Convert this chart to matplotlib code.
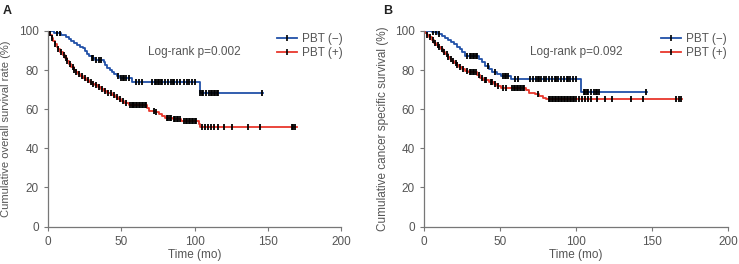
import matplotlib
matplotlib.use("Agg")
import matplotlib.pyplot as plt
from matplotlib.lines import Line2D
import numpy as np

plt.rcParams['font.family'] = ['Liberation Sans', 'DejaVu Sans']

# panel A - overall survival
a_neg_t = [4, 9, 12, 14, 16, 18, 20, 22, 24, 25, 26.5, 28, 30, 32, 38, 39, 40.5, 42, 43.5, 45, 47, 49, 57.5, 103.5]
a_neg_s = [99, 98, 97, 96, 95, 94, 93, 92, 91, 89.5, 88, 87, 86, 85, 84, 82.5, 81, 80, 79, 78, 77, 76, 74, 68]
a_neg_end = 146.6
a_neg_cens = [6, 8, 30, 31, 33, 35, 36, 48, 50, 51, 52, 53, 55, 60, 62, 64, 71, 73, 74, 75, 76, 77, 78, 80,
              82, 84, 85, 86, 88, 90, 93, 95, 96, 98, 100, 104, 105, 106, 108, 110, 111, 112, 113, 114, 115, 116, 146]

a_pos_t = [0.5, 1.5, 2.5, 3.5, 4.5, 6, 7, 8.5, 10, 11.5, 13, 14.5, 16, 17.5, 19, 20.5, 22, 24, 26, 28, 30, 32,
           34, 36, 38, 40, 42, 44, 46, 48, 50, 52, 55, 67.5, 69, 73, 76, 78, 80, 85, 91, 103, 104]
a_pos_s = [99, 98, 96.5, 95, 93.5, 92, 90.5, 89, 87.5, 86, 84.5, 83, 81.5, 80, 79, 78, 77, 76, 75, 74, 73, 72.5,
           71.5, 70.5, 69.5, 68.5, 68, 67, 66, 65, 64, 63, 62, 60.5, 59, 58.5, 57.5, 56.5, 55.5, 55, 54, 52.5, 51]
a_pos_end = 169.7
a_pos_cens = [1, 3, 5, 7, 9, 11, 12, 13, 15, 17, 18, 19, 21, 23, 25, 27, 29, 31, 33, 35, 37, 39, 41, 43, 45,
              47, 49, 51, 53, 56, 57, 58, 59, 60, 61, 62, 63, 64, 65, 66, 67, 72, 74, 81, 82, 83, 84, 86, 87, 88,
              89, 90, 93, 94, 95, 96, 97, 98, 99, 100, 101, 104.8, 107, 109, 111.4, 113.6, 115.8, 120, 125.7,
              136.7, 144.4, 166.4, 167.5, 168.6]

# panel B - cancer specific survival
b_neg_t = [5, 9, 12, 14, 16, 18, 20, 22, 23.5, 25, 27, 36, 38, 40, 43, 45, 48, 51, 57.5, 103.5]
b_neg_s = [99.5, 98.5, 97.5, 96.5, 95.5, 94.5, 93.5, 92, 90.5, 89, 87, 85.5, 84, 82, 80.5, 79, 78, 77, 75.5, 69]
b_neg_end = 146.6
b_neg_cens = [6, 8, 10, 28, 30, 31, 32, 33, 34, 35, 42, 47, 52, 53, 54, 55, 60, 62, 70, 72, 74, 75, 76, 77, 79,
              80, 82, 84, 86, 87, 88, 90, 92, 94, 95, 96, 98, 100, 105, 106, 107, 108, 110, 112, 113, 114, 115, 146]

b_pos_t = [1, 2, 3.5, 5, 6.5, 8, 9.5, 11, 12.5, 14, 15.5, 17, 18.5, 20, 21.5, 23, 25, 27, 29, 35, 37, 39, 43,
           46, 48, 51, 67, 69, 73, 76, 78, 80]
b_pos_s = [99, 98, 97, 95.5, 94, 93, 92, 90.5, 89, 88, 86.5, 85.5, 84.5, 83.5, 82.5, 81.5, 80.5, 79.5, 79, 77.5,
           76, 75, 74, 73, 72, 71, 70, 68.5, 67.5, 66.5, 65.5, 65]
b_pos_end = 169.7
b_pos_cens = [2, 4, 6, 7, 9, 10, 12, 13, 15, 16, 18, 19, 21, 22, 24, 26, 28, 30, 31, 32, 33, 34, 36, 38, 40, 41,
              44, 45, 47, 49, 52, 54, 58, 59, 60, 61, 62, 63, 64, 65, 66, 75, 82, 83, 84, 85, 86, 87, 88, 89, 90,
              91, 92, 93, 94, 95, 96, 97, 98, 99, 100, 102, 104, 106, 108, 110, 114, 119, 124, 136, 144, 166,
              167.5, 169]

blue = '#2150a8'
red = '#e8372c'
grey = '#555555'
fs = 8.5


def drawCurve(ax, t, s, end, cens, color):
    times = [0] + t + [end]
    surv = [100] + s + [s[-1]]
    ax.step(times, surv, where='post', color=color, lw=1.3, zorder=2)
    idx = np.searchsorted(times, cens, side='right') - 1
    ys = np.array(surv)[idx]
    ax.plot(cens, ys, ls='none', marker='|', ms=4, mew=1.3, color='black', zorder=3)


def setupAxes(ax, ylabel, ptext, labx, labfs):
    ax.set_xlim(0, 200)
    ax.set_ylim(0, 100)
    ax.set_xticks([0, 50, 100, 150, 200])
    ax.set_yticks([0, 20, 40, 60, 80, 100])
    for side in ['top', 'right']:
        ax.spines[side].set_visible(False)
    for side in ['left', 'bottom']:
        ax.spines[side].set_color('#777777')
        ax.spines[side].set_linewidth(0.9)
    ax.tick_params(colors='#777777', labelcolor=grey, labelsize=fs, length=3, width=0.8)
    ax.set_xlabel('Time (mo)', fontsize=fs, color=grey, labelpad=1)
    ax.set_ylabel(ylabel, fontsize=labfs, color=grey)
    ax.yaxis.set_label_coords(labx, 0.5)
    ax.text(0.5, 0.894, ptext, transform=ax.transAxes, ha='center', va='center', fontsize=fs, color=grey)
    handles = [Line2D([], [], color=blue, lw=1.3, marker='|', ms=4, mec='black', mew=1.2),
               Line2D([], [], color=red, lw=1.3, marker='|', ms=4, mec='black', mew=1.2)]
    leg = ax.legend(handles, ['PBT (\u2212)', 'PBT (+)'], loc='upper left', bbox_to_anchor=(0.745, 1.045),
                    frameon=False, fontsize=fs, handlelength=1.7, handletextpad=0.4, labelspacing=0.2,
                    numpoints=1)
    for txt in leg.get_texts():
        txt.set_color(grey)


fig = plt.figure(figsize=(7.39, 2.64), dpi=100)
axA = fig.add_axes([0.065, 0.142, 0.3965, 0.741])
axB = fig.add_axes([0.5737, 0.142, 0.4114, 0.741])

drawCurve(axA, a_neg_t, a_neg_s, a_neg_end, a_neg_cens, blue)
drawCurve(axA, a_pos_t, a_pos_s, a_pos_end, a_pos_cens, red)
setupAxes(axA, 'Cumulative overall survival rate (%)', 'Log-rank p=0.002', -0.125, 8)

drawCurve(axB, b_neg_t, b_neg_s, b_neg_end, b_neg_cens, blue)
drawCurve(axB, b_pos_t, b_pos_s, b_pos_end, b_pos_cens, red)
setupAxes(axB, 'Cumulative cancer specific survival (%)', 'Log-rank p=0.092', -0.115, fs)

fig.text(0.004, 0.96, 'A', fontsize=9, fontweight='bold', color='#222222', va='center')
fig.text(0.518, 0.96, 'B', fontsize=9, fontweight='bold', color='#222222', va='center')

fig.savefig('out.png', dpi=100)
